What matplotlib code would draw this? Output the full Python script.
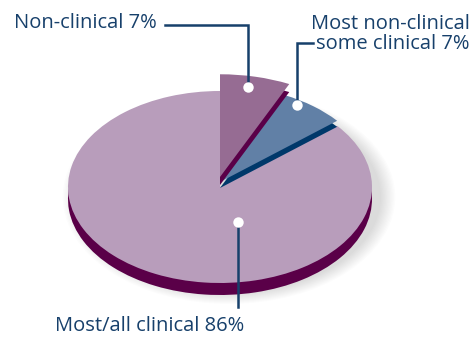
import numpy as np
import matplotlib.pyplot as plt
from matplotlib.patches import Ellipse

# data
labels = ['Non-clinical 7%', 'Most non-clinical\nsome clinical 7%', 'Most/all clinical 86%']
shares = [7, 7, 86]

top_colors = ['#966c93', '#6180a6', '#b89dbb']
side_colors = ['#5a0048', '#00386a', '#5a0048']
text_color = '#17406b'

# layout in pixels
W, H = 472, 337
cx, cy, rx, ry = 220, 187, 152, 96
lift_px = [10, 5, 0]        # how far each slice top is raised
side_px = [8, 6, 12]        # visible thickness of each slice
radius = [1.07, 1.0, 1.0]
dot_polar = [(79, 0.89), (58, 0.95), (-72, 0.38)]   # where the white dots sit


def to_units(px, py):
    return (px - cx) / rx, (cy - py) / ry


fig = plt.figure(figsize=(W / 100, H / 100), dpi=100)
ax = fig.add_axes([0, 0, 1, 1])

# soft shadow under the pie, mostly to the right
for k in range(12):
    ax.add_patch(Ellipse((9 / rx, -(10) / ry), 2 * (rx + k * 1.3) / rx,
                         2 * (ry + k * 1.0) / ry, facecolor='black',
                         alpha=0.012, lw=0, zorder=0))

sides, _ = ax.pie(shares, colors=side_colors, startangle=90, counterclock=False,
                  wedgeprops=dict(lw=0))
tops, _ = ax.pie(shares, colors=top_colors, startangle=90, counterclock=False,
                 wedgeprops=dict(lw=0))

# drawing order: big slice first, then blue, then purple
order = {2: 1, 1: 3, 0: 5}
for i in range(3):
    top_y = lift_px[i] / ry
    sides[i].set_center((0, top_y - side_px[i] / ry))
    tops[i].set_center((0, top_y))
    sides[i].set_radius(radius[i])
    tops[i].set_radius(radius[i])
    sides[i].set_zorder(order[i])
    tops[i].set_zorder(order[i] + 1)

ax.set_aspect('auto')
ax.set_xlim(-cx / rx, (W - cx) / rx)
ax.set_ylim(-(H - cy) / ry, cy / ry)
ax.axis('off')

# dots in slice coordinates
dots = []
for i, (ang, r) in enumerate(dot_polar):
    a = np.radians(ang)
    dx = r * radius[i] * np.cos(a)
    dy = lift_px[i] / ry + r * radius[i] * np.sin(a)
    dots.append((dx, dy))

lw = 1.8
# Non-clinical leader
x0, y0 = dots[0]
_, yy = to_units(0, 25)
xs, _ = to_units(165, 0)
ax.plot([xs, x0, x0], [yy, yy, y0], color=text_color, lw=lw, zorder=10,
        solid_joinstyle='miter')
# blue leader
x1, y1 = dots[1]
_, yy = to_units(0, 43)
xe, _ = to_units(313, 0)
ax.plot([xe, x1, x1], [yy, yy, y1], color=text_color, lw=lw, zorder=10,
        solid_joinstyle='miter')
# big slice leader
x2, y2 = dots[2]
_, yb = to_units(0, 307)
ax.plot([x2, x2], [y2, yb], color=text_color, lw=lw, zorder=10)

for d in dots:
    ax.plot(d[0], d[1], 'o', ms=7.5, color='white', mec='none', zorder=11)

font = dict(family=['Open Sans', 'DejaVu Sans'], size=14.5, color=text_color,
            weight='medium')
fig.text(14 / W, 1 - 28 / H, labels[0], ha='left', va='baseline', **font)
fig.text(470 / W, 1 - 49 / H, labels[1], ha='right', va='baseline',
         linespacing=1.0, **font)
fig.text(55 / W, 1 - 331 / H, labels[2], ha='left', va='baseline', **font)

fig.savefig('out.png', dpi=100)
